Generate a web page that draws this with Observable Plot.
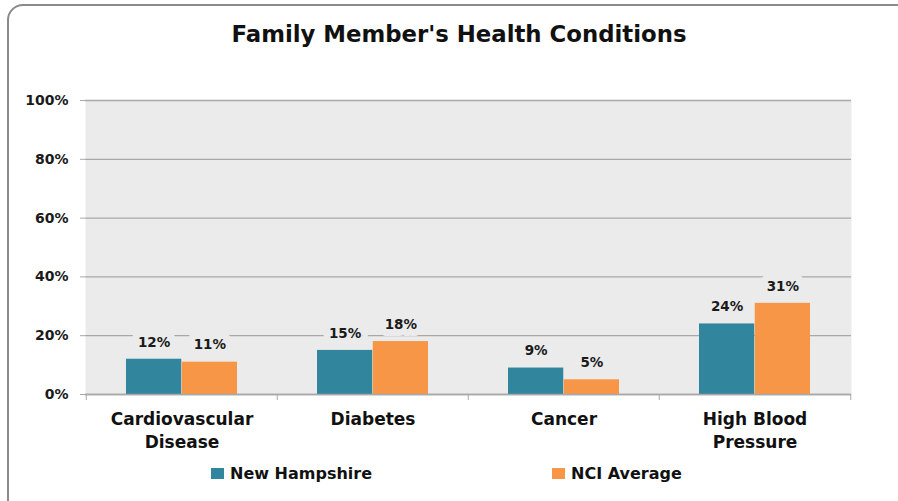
<!DOCTYPE html>
<html>
<head>
<meta charset="utf-8">
<script src="https://cdn.jsdelivr.net/npm/d3@7"></script>
<script src="https://cdn.jsdelivr.net/npm/@observablehq/plot@0.6"></script>
<style>
  html, body { margin: 0; padding: 0; background: #fff; }
  #wrap { position: relative; width: 898px; height: 501px; overflow: hidden; font-family: "DejaVu Sans", sans-serif; }
  #border { position: absolute; left: 7px; top: 4px; width: 1000px; height: 600px; border: 2px solid #8a8a8a; border-radius: 16px; box-sizing: border-box; }
  #title { position: absolute; left: 0; width: 918px; top: 21px; text-align: center; font-weight: 700; font-size: 22.8px; color: #111; }
  #chart { position: absolute; left: 0; top: 0; }
  #legend { position: absolute; top: 461px; left: 0; width: 898px; height: 24px; font-weight: 700; font-size: 16px; color: #111; }
  .item { position: absolute; top: 0; display: flex; align-items: center; height: 24px; }
  .sw { width: 13px; height: 11px; margin-right: 6px; }
</style>
</head>
<body>
<div id="wrap">
  <div id="border"></div>
  <div id="chart"></div>
  <div id="title">Family Member's Health Conditions</div>
  <div id="legend"></div>
</div>
<script>
const categories = ["Cardiovascular\nDisease", "Diabetes", "Cancer", "High Blood\nPressure"];
const seriesNames = ["New Hampshire", "NCI Average"];
const newHampshire = [0.12, 0.15, 0.09, 0.24];
const nciAverage = [0.11, 0.18, 0.05, 0.31];
const yTicks = [0, 0.2, 0.4, 0.6, 0.8, 1.0];
const colors = ["#31859c", "#f79646"];

const data = [];
categories.forEach((c, i) => {
  data.push({category: c, series: seriesNames[0], value: newHampshire[i]});
  data.push({category: c, series: seriesNames[1], value: nciAverage[i]});
});

const W = 898, H = 460;
const mL = 85, mR = 47, mT = 100, mB = 66;
const band = (W - mL - mR) / categories.length;
const outer = 40, half = band / 2;
const bg = "#ebebeb";
const fmt = d3.format(".0%");
const font = "DejaVu Sans, sans-serif";

const nh = data.filter(d => d.series === seriesNames[0]);
const nci = data.filter(d => d.series === seriesNames[1]);

const plot = Plot.plot({
  width: W, height: H,
  marginLeft: mL, marginRight: mR, marginTop: mT, marginBottom: mB,
  style: {background: "transparent", fontFamily: font, overflow: "visible"},
  x: {domain: categories, padding: 0, axis: null},
  y: {domain: [0, 1], axis: null},
  color: {domain: seriesNames, range: colors},
  marks: [
    Plot.frame({fill: bg, stroke: null}),
    Plot.gridY(yTicks, {stroke: "#a8a8a8", strokeOpacity: 1, strokeWidth: 1.3}),
    Plot.barY(nh, {x: "category", y: "value", fill: "series", insetLeft: outer, insetRight: half}),
    Plot.barY(nci, {x: "category", y: "value", fill: "series", insetLeft: half, insetRight: outer}),
    Plot.text(nh, {x: "category", y: "value", text: d => fmt(d.value), dx: -(half - outer) / 2, dy: -17, fontWeight: 700, fontSize: 13.5, fill: "#1a1a1a", stroke: bg, strokeWidth: 14}),
    Plot.text(nci, {x: "category", y: "value", text: d => fmt(d.value), dx: (half - outer) / 2, dy: -17, fontWeight: 700, fontSize: 13.5, fill: "#1a1a1a", stroke: bg, strokeWidth: 14}),
    Plot.ruleY([0], {stroke: "#a8a8a8", strokeWidth: 1.5}),
    Plot.ruleX([0], {frameAnchor: "left", stroke: "#a8a8a8", strokeWidth: 1.5}),
    Plot.axisY({ticks: yTicks, tickFormat: fmt, label: null, tickSize: 5, tickPadding: 12, stroke: "#a8a8a8", fontWeight: 700, fontSize: 14, fill: "#1a1a1a"}),
    Plot.axisX({ticks: categories, label: null, tickSize: 6, text: null, dx: -half, stroke: "#a8a8a8"}),
    Plot.axisX({ticks: categories.slice(-1), label: null, tickSize: 6, text: null, dx: half, stroke: "#a8a8a8"}),
    Plot.text(categories, {x: d => d, y: 0, dy: 14, lineAnchor: "top", lineHeight: 1.35, fontWeight: 700, fontSize: 17, fill: "#111"})
  ]
});
document.getElementById("chart").appendChild(plot);

const legend = document.getElementById("legend");
const lx = [211, 552];
seriesNames.forEach((s, i) => {
  const it = document.createElement("div");
  it.className = "item";
  it.style.left = lx[i] + "px";
  it.innerHTML = `<div class="sw" style="background:${colors[i]}"></div><span>${s}</span>`;
  legend.appendChild(it);
});
</script>
</body>
</html>
